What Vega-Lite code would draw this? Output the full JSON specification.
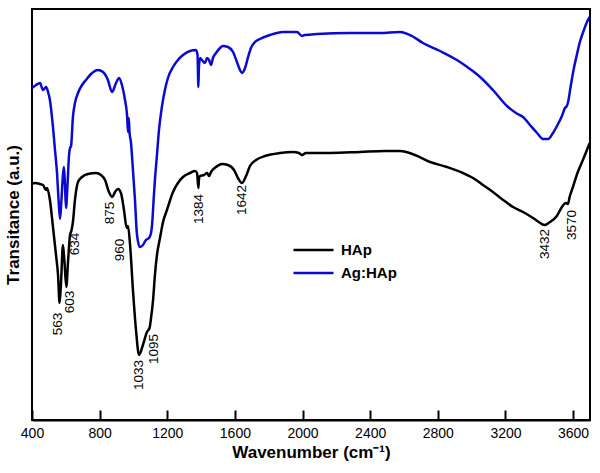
{
  "$schema": "https://vega.github.io/schema/vega-lite/v6.json",
  "width": 558,
  "height": 411,
  "autosize": {"type": "none"},
  "padding": {"left": 32, "top": 9, "right": 10, "bottom": 53},
  "background": "white",
  "config": {
    "view": {"stroke": "#000", "strokeWidth": 2},
    "font": "Liberation Sans"
  },
  "datasets": {
    "spectra": [
      {"s":"HAp","w":400,"t":236},{"s":"HAp","w":418,"t":237},{"s":"HAp","w":447,"t":236},{"s":"HAp","w":465,"t":235},{"s":"HAp","w":483,"t":230},{"s":"HAp","w":489,"t":232},{"s":"HAp","w":506,"t":220},{"s":"HAp","w":524,"t":193},{"s":"HAp","w":542,"t":165},{"s":"HAp","w":554,"t":145},{"s":"HAp","w":563,"t":117},{"s":"HAp","w":571,"t":135},{"s":"HAp","w":583,"t":175},{"s":"HAp","w":592,"t":158},{"s":"HAp","w":603,"t":133},{"s":"HAp","w":613,"t":158},{"s":"HAp","w":625,"t":185},{"s":"HAp","w":634,"t":190},{"s":"HAp","w":642,"t":198},{"s":"HAp","w":654,"t":220},{"s":"HAp","w":672,"t":238},{"s":"HAp","w":696,"t":243},{"s":"HAp","w":731,"t":246},{"s":"HAp","w":779,"t":247},{"s":"HAp","w":808,"t":245},{"s":"HAp","w":832,"t":240},{"s":"HAp","w":855,"t":228},{"s":"HAp","w":875,"t":223},{"s":"HAp","w":891,"t":228},{"s":"HAp","w":909,"t":231},{"s":"HAp","w":926,"t":227},{"s":"HAp","w":944,"t":210},{"s":"HAp","w":960,"t":192},{"s":"HAp","w":968,"t":194},{"s":"HAp","w":980,"t":175},{"s":"HAp","w":997,"t":130},{"s":"HAp","w":1015,"t":90},{"s":"HAp","w":1033,"t":65},{"s":"HAp","w":1056,"t":75},{"s":"HAp","w":1080,"t":88},{"s":"HAp","w":1095,"t":92},{"s":"HAp","w":1104,"t":102},{"s":"HAp","w":1116,"t":120},{"s":"HAp","w":1127,"t":145},{"s":"HAp","w":1139,"t":165},{"s":"HAp","w":1157,"t":182},{"s":"HAp","w":1175,"t":198},{"s":"HAp","w":1198,"t":210},{"s":"HAp","w":1234,"t":228},{"s":"HAp","w":1263,"t":237},{"s":"HAp","w":1293,"t":243},{"s":"HAp","w":1334,"t":247},{"s":"HAp","w":1364,"t":249},{"s":"HAp","w":1376,"t":247},{"s":"HAp","w":1384,"t":232},{"s":"HAp","w":1387,"t":240},{"s":"HAp","w":1394,"t":244},{"s":"HAp","w":1417,"t":245},{"s":"HAp","w":1435,"t":247},{"s":"HAp","w":1447,"t":244},{"s":"HAp","w":1459,"t":248},{"s":"HAp","w":1488,"t":253},{"s":"HAp","w":1524,"t":256},{"s":"HAp","w":1559,"t":255},{"s":"HAp","w":1595,"t":250},{"s":"HAp","w":1618,"t":242},{"s":"HAp","w":1642,"t":237},{"s":"HAp","w":1666,"t":244},{"s":"HAp","w":1689,"t":254},{"s":"HAp","w":1725,"t":260},{"s":"HAp","w":1778,"t":264},{"s":"HAp","w":1867,"t":267},{"s":"HAp","w":1944,"t":268},{"s":"HAp","w":1979,"t":267},{"s":"HAp","w":1997,"t":265},{"s":"HAp","w":2020,"t":267},{"s":"HAp","w":2162,"t":267},{"s":"HAp","w":2340,"t":268},{"s":"HAp","w":2488,"t":269},{"s":"HAp","w":2576,"t":269},{"s":"HAp","w":2665,"t":265},{"s":"HAp","w":2754,"t":258},{"s":"HAp","w":2854,"t":253},{"s":"HAp","w":2949,"t":247},{"s":"HAp","w":3008,"t":242},{"s":"HAp","w":3067,"t":235},{"s":"HAp","w":3126,"t":228},{"s":"HAp","w":3186,"t":220},{"s":"HAp","w":3245,"t":213},{"s":"HAp","w":3304,"t":208},{"s":"HAp","w":3363,"t":202},{"s":"HAp","w":3405,"t":197},{"s":"HAp","w":3432,"t":195},{"s":"HAp","w":3463,"t":198},{"s":"HAp","w":3504,"t":204},{"s":"HAp","w":3534,"t":213},{"s":"HAp","w":3557,"t":217},{"s":"HAp","w":3569,"t":216},{"s":"HAp","w":3581,"t":224},{"s":"HAp","w":3599,"t":233},{"s":"HAp","w":3628,"t":248},{"s":"HAp","w":3653,"t":258},{"s":"HAp","w":3677,"t":268},{"s":"HAp","w":3698,"t":277},
      {"s":"Ag:HAp","w":400,"t":332},{"s":"Ag:HAp","w":424,"t":335},{"s":"Ag:HAp","w":447,"t":337},{"s":"Ag:HAp","w":465,"t":330},{"s":"Ag:HAp","w":483,"t":333},{"s":"Ag:HAp","w":495,"t":328},{"s":"Ag:HAp","w":506,"t":320},{"s":"Ag:HAp","w":524,"t":293},{"s":"Ag:HAp","w":536,"t":270},{"s":"Ag:HAp","w":548,"t":247},{"s":"Ag:HAp","w":557,"t":220},{"s":"Ag:HAp","w":566,"t":201},{"s":"Ag:HAp","w":574,"t":220},{"s":"Ag:HAp","w":583,"t":245},{"s":"Ag:HAp","w":589,"t":253},{"s":"Ag:HAp","w":595,"t":235},{"s":"Ag:HAp","w":601,"t":212},{"s":"Ag:HAp","w":610,"t":235},{"s":"Ag:HAp","w":619,"t":265},{"s":"Ag:HAp","w":625,"t":272},{"s":"Ag:HAp","w":631,"t":274},{"s":"Ag:HAp","w":642,"t":303},{"s":"Ag:HAp","w":654,"t":317},{"s":"Ag:HAp","w":672,"t":327},{"s":"Ag:HAp","w":696,"t":335},{"s":"Ag:HAp","w":719,"t":340},{"s":"Ag:HAp","w":749,"t":346},{"s":"Ag:HAp","w":790,"t":350},{"s":"Ag:HAp","w":820,"t":348},{"s":"Ag:HAp","w":849,"t":340},{"s":"Ag:HAp","w":873,"t":328},{"s":"Ag:HAp","w":897,"t":337},{"s":"Ag:HAp","w":915,"t":342},{"s":"Ag:HAp","w":932,"t":335},{"s":"Ag:HAp","w":950,"t":320},{"s":"Ag:HAp","w":962,"t":305},{"s":"Ag:HAp","w":968,"t":288},{"s":"Ag:HAp","w":972,"t":302},{"s":"Ag:HAp","w":977,"t":287},{"s":"Ag:HAp","w":985,"t":278},{"s":"Ag:HAp","w":997,"t":250},{"s":"Ag:HAp","w":1009,"t":220},{"s":"Ag:HAp","w":1021,"t":185},{"s":"Ag:HAp","w":1038,"t":173},{"s":"Ag:HAp","w":1056,"t":175},{"s":"Ag:HAp","w":1074,"t":180},{"s":"Ag:HAp","w":1092,"t":182},{"s":"Ag:HAp","w":1104,"t":187},{"s":"Ag:HAp","w":1110,"t":195},{"s":"Ag:HAp","w":1121,"t":225},{"s":"Ag:HAp","w":1127,"t":240},{"s":"Ag:HAp","w":1139,"t":265},{"s":"Ag:HAp","w":1151,"t":290},{"s":"Ag:HAp","w":1168,"t":313},{"s":"Ag:HAp","w":1186,"t":330},{"s":"Ag:HAp","w":1204,"t":342},{"s":"Ag:HAp","w":1234,"t":353},{"s":"Ag:HAp","w":1263,"t":360},{"s":"Ag:HAp","w":1293,"t":365},{"s":"Ag:HAp","w":1334,"t":369},{"s":"Ag:HAp","w":1370,"t":370},{"s":"Ag:HAp","w":1379,"t":365},{"s":"Ag:HAp","w":1384,"t":333},{"s":"Ag:HAp","w":1387,"t":352},{"s":"Ag:HAp","w":1394,"t":362},{"s":"Ag:HAp","w":1405,"t":360},{"s":"Ag:HAp","w":1423,"t":357},{"s":"Ag:HAp","w":1435,"t":362},{"s":"Ag:HAp","w":1447,"t":360},{"s":"Ag:HAp","w":1459,"t":355},{"s":"Ag:HAp","w":1470,"t":362},{"s":"Ag:HAp","w":1488,"t":367},{"s":"Ag:HAp","w":1512,"t":372},{"s":"Ag:HAp","w":1529,"t":374},{"s":"Ag:HAp","w":1559,"t":373},{"s":"Ag:HAp","w":1589,"t":368},{"s":"Ag:HAp","w":1612,"t":358},{"s":"Ag:HAp","w":1630,"t":350},{"s":"Ag:HAp","w":1642,"t":347},{"s":"Ag:HAp","w":1660,"t":352},{"s":"Ag:HAp","w":1678,"t":363},{"s":"Ag:HAp","w":1695,"t":372},{"s":"Ag:HAp","w":1719,"t":378},{"s":"Ag:HAp","w":1748,"t":381},{"s":"Ag:HAp","w":1807,"t":385},{"s":"Ag:HAp","w":1884,"t":388},{"s":"Ag:HAp","w":1967,"t":388},{"s":"Ag:HAp","w":1997,"t":384},{"s":"Ag:HAp","w":2014,"t":385},{"s":"Ag:HAp","w":2085,"t":386},{"s":"Ag:HAp","w":2281,"t":387},{"s":"Ag:HAp","w":2458,"t":387},{"s":"Ag:HAp","w":2576,"t":388},{"s":"Ag:HAp","w":2647,"t":384},{"s":"Ag:HAp","w":2712,"t":377},{"s":"Ag:HAp","w":2813,"t":369},{"s":"Ag:HAp","w":2913,"t":360},{"s":"Ag:HAp","w":2990,"t":351},{"s":"Ag:HAp","w":3050,"t":343},{"s":"Ag:HAp","w":3126,"t":330},{"s":"Ag:HAp","w":3209,"t":314},{"s":"Ag:HAp","w":3262,"t":307},{"s":"Ag:HAp","w":3304,"t":303},{"s":"Ag:HAp","w":3345,"t":295},{"s":"Ag:HAp","w":3387,"t":287},{"s":"Ag:HAp","w":3422,"t":281},{"s":"Ag:HAp","w":3452,"t":281},{"s":"Ag:HAp","w":3481,"t":287},{"s":"Ag:HAp","w":3511,"t":296},{"s":"Ag:HAp","w":3534,"t":304},{"s":"Ag:HAp","w":3552,"t":312},{"s":"Ag:HAp","w":3563,"t":314},{"s":"Ag:HAp","w":3569,"t":317},{"s":"Ag:HAp","w":3587,"t":335},{"s":"Ag:HAp","w":3605,"t":352},{"s":"Ag:HAp","w":3622,"t":365},{"s":"Ag:HAp","w":3640,"t":378},{"s":"Ag:HAp","w":3664,"t":390},{"s":"Ag:HAp","w":3682,"t":398},{"s":"Ag:HAp","w":3698,"t":403}
    ],
    "peaks": [
      {"label":"563","w":554,"t":96},
      {"label":"603","w":625,"t":118},
      {"label":"634","w":656,"t":176},
      {"label":"875","w":861,"t":207},
      {"label":"960","w":918,"t":170},
      {"label":"1033","w":1033,"t":45},
      {"label":"1095","w":1124,"t":71},
      {"label":"1384","w":1388,"t":211},
      {"label":"1642","w":1642,"t":220},
      {"label":"3432","w":3434,"t":176},
      {"label":"3570","w":3596,"t":195}
    ]
  },
  "layer": [
    {
      "data": {"name": "spectra"},
      "mark": {"type": "line", "strokeWidth": 2.5, "interpolate": "monotone"},
      "encoding": {
        "x": {
          "field": "w", "type": "quantitative",
          "scale": {"domain": [400, 3700], "nice": false, "zero": false},
          "axis": {
            "title": "Wavenumber (cm⁻¹)",
            "titleFont": "Liberation Sans", "titleFontSize": 17, "titleFontWeight": "bold", "titleColor": "#000", "titlePadding": 4,
            "values": [400,600,800,1000,1200,1400,1600,1800,2000,2200,2400,2600,2800,3000,3200,3400,3600],
            "labelExpr": "datum.value % 400 === 0 ? format(datum.value, 'd') : ''",
            "labelFont": "Liberation Sans", "labelFontSize": 14, "labelColor": "#000", "labelPadding": 16,
            "labelOverlap": false, "labelFlush": false,
            "tickSize": {"condition": {"test": "datum.value % 400 === 0", "value": -10}, "value": -5},
            "tickColor": "#000", "tickWidth": 2,
            "domainColor": "#000", "domainWidth": 2,
            "grid": false
          }
        },
        "y": {
          "field": "t", "type": "quantitative",
          "scale": {"domain": [0, 411], "nice": false},
          "axis": {
            "title": "Transitance (a.u.)",
            "titleFont": "Liberation Sans", "titleFontSize": 17, "titleFontWeight": "bold", "titleColor": "#000",
            "titlePadding": 10,
            "labels": false, "ticks": false, "grid": false, "domain": false
          }
        },
        "color": {
          "field": "s", "type": "nominal",
          "scale": {"domain": ["HAp", "Ag:HAp"], "range": ["#000000", "#0a0ad2"]},
          "legend": {
            "title": null, "orient": "none", "legendX": 260, "legendY": 232,
            "symbolType": "stroke", "symbolSize": 1600, "symbolStrokeWidth": 2.5,
            "clipHeight": 18,
            "labelFont": "Liberation Sans", "labelFontSize": 15, "labelFontWeight": "bold", "labelColor": "#000",
            "rowPadding": 5, "labelOffset": 6
          }
        },
        "order": {"field": "w", "type": "quantitative"}
      }
    },
    {
      "data": {"name": "peaks"},
      "mark": {"type": "text", "angle": 270, "align": "center", "baseline": "middle", "fontSize": 13.5, "font": "Liberation Sans", "color": "#000"},
      "encoding": {
        "x": {"field": "w", "type": "quantitative"},
        "y": {"field": "t", "type": "quantitative"},
        "text": {"field": "label"}
      }
    }
  ]
}
